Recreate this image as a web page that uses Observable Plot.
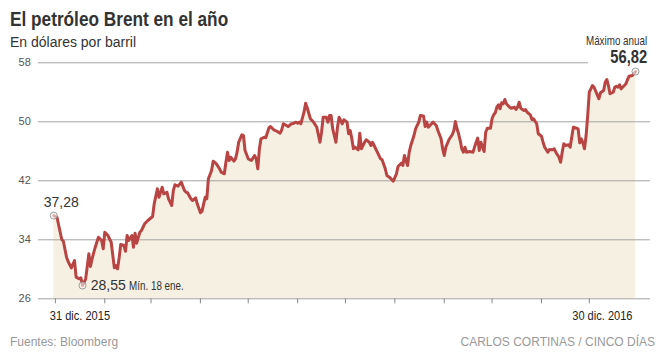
<!DOCTYPE html>
<html>
<head>
<meta charset="utf-8">
<script src="https://cdn.jsdelivr.net/npm/d3@7"></script>
<script src="https://cdn.jsdelivr.net/npm/@observablehq/plot@0.6"></script>
<style>
  html, body { margin: 0; padding: 0; background: #fff; }
  #wrap { position: relative; width: 664px; height: 355px; overflow: hidden; font-family: "Liberation Sans", Arial, sans-serif; }
  #wrap > svg { position: absolute; left: 0; top: 0; }
  .t { position: absolute; white-space: nowrap; line-height: 1; }
  #title { left: 10px; top: 8px; font-weight: bold; font-size: 21px; color: #333; transform: scaleX(0.82); transform-origin: 0 0; }
  #subtitle { left: 10px; top: 35px; font-size: 14px; color: #333; }
  #source { left: 10px; top: 336px; font-size: 12px; color: #999; }
  #credit { right: 9px; top: 336px; font-size: 12px; color: #999; }
</style>
</head>
<body>
<div id="wrap">
  <div class="t" id="title">El petróleo Brent en el año</div>
  <div class="t" id="subtitle">En dólares por barril</div>
  <div class="t" id="source">Fuentes: Bloomberg</div>
  <div class="t" id="credit">CARLOS CORTINAS / CINCO DÍAS</div>
</div>
<script>
// Days elapsed since 31 dic. 2015, and Brent price (USD per barrel)
const startDate = "2015-12-31";
const days = [0,2,4,5,6,8,9,11,13,14,16,17,18,20,22,23,24,26,28,30,31,32,34,36,38,39,40,41,42,44,45,46,47,49,50,51,52,54,55,57,59,62,
63,65,66,68,69,71,72,74,75,76,78,80,82,83,84,86,87,89,90,92,93,95,96,97,99,100,102,104,105,107,108,109,110,111,113,114,115,116,118,119,120,
122,124,126,127,128,129,130,132,133,135,136,138,140,142,143,144,146,147,149,150,152,153,154,155,157,158,159,161,163,165,167,168,169,171,172,173,174,175,177,178,179,181,182,184,
185,186,187,188,189,191,192,193,195,196,198,199,200,201,203,205,206,208,209,211,213,215,216,218,219,220,221,222,223,224,226,227,229,230,232,233,234,235,237,238,240,241,243,244,245,246,
248,250,251,252,253,254,255,256,257,258,259,261,263,264,265,266,267,268,270,271,272,274,275,276,277,278,279,280,281,282,283,284,286,287,289,290,291,292,293,295,296,297,299,300,301,303,304,306,307,308,310,
311,313,314,315,317,318,319,320,321,323,324,325,326,328,329,330,331,332,333,334,335,336,337,338,339,341,342,343,345,346,347,348,349,351,352,353,354,355,356,358,359,360,361,363,364,365];
const prices = [37.28,37.06,35.03,34.04,33.81,31.64,31.06,30.20,31.19,28.93,28.71,28.85,27.80,28.71,32.10,30.38,31.42,33.00,34.35,33.90,32.78,35.03,34.58,33.67,30.20,30.52,30.07,31.56,33.36,33.23,32.45,34.58,33.90,34.58,33.00,34.89,33.54,35.03,35.26,36.17,36.62,37.16,
38.88,40.91,39.78,41.13,40.24,40.45,39.56,38.65,40.68,41.46,41.27,41.81,40.68,40.45,40.35,39.56,39.33,39.69,38.88,37.66,37.88,39.78,39.56,42.27,43.40,44.66,44.30,43.63,43.17,42.95,44.52,45.88,44.75,45.20,44.66,44.98,45.88,47.23,48.24,48.14,46.11,
44.98,44.75,45.43,44.98,43.63,46.34,47.69,47.91,47.83,49.19,49.36,48.92,48.72,48.45,48.92,49.73,49.50,49.36,49.73,49.75,49.95,49.81,49.95,49.73,51.30,52.52,51.90,50.41,49.95,49.27,47.23,48.59,50.62,50.62,49.95,50.85,50.85,49.05,47.23,49.27,50.62,49.73,50.27,49.95,
48.37,48.82,47.69,46.34,46.56,46.20,48.45,46.34,47.23,47.56,47.23,46.79,47.23,46.79,45.88,44.98,44.85,43.63,42.72,42.41,41.95,42.95,43.94,44.39,44.07,45.43,44.75,44.07,45.88,46.79,48.14,49.05,49.95,50.85,50.80,49.36,49.95,49.27,49.73,49.95,49.50,48.82,47.69,46.34,45.43,46.56,
47.60,48.24,48.82,50.04,49.05,48.37,47.46,46.34,45.88,46.56,45.88,45.97,45.88,46.56,47.23,47.78,46.11,47.23,45.97,48.59,49.13,49.13,50.41,50.95,51.22,51.98,52.30,51.76,52.58,52.44,53.02,52.44,51.98,51.84,51.98,51.67,51.98,52.66,51.84,51.53,51.67,51.30,50.95,50.31,50.41,49.73,48.37,48.05,47.23,46.56,45.88,
46.24,46.20,46.34,45.88,45.20,44.52,45.88,47.02,46.79,46.88,46.56,47.91,49.27,49.13,49.05,47.15,47.69,47.15,46.34,48.14,50.85,54.01,54.47,54.92,54.69,53.66,53.12,53.93,54.24,55.37,55.74,54.92,53.80,54.01,54.69,54.83,54.69,55.02,54.47,54.92,55.15,55.74,56.18,56.28,56.51,56.82];

const yTicks = [26, 34, 42, 50, 58];
const xLabels = ["31 dic. 2015", "30 dic. 2016"];
const firstLabel = "37,28";
const minLabel = "28,55";
const minNote = "Mín. 18 ene.";
const maxNote = "Máximo anual";
const maxLabel = "56,82";

const t0 = new Date(startDate + "T00:00:00Z");
const data = days.map((d, i) => ({ date: d3.utcDay.offset(t0, d), price: prices[i] }));
const first = data[0];
const last = data[data.length - 1];
const low = d3.least(data, d => d.price);
const yMin = d3.min(yTicks), yMax = d3.max(yTicks);
const monthTicks = d3.utcMonth.range(d3.utcMonth.ceil(first.date), last.date);

const RED = "#b94444";
const GRID = "#a3a3a3";
const FONT = "'Liberation Sans', Arial, sans-serif";

const chart = Plot.plot({
  width: 664,
  height: 355,
  marginTop: 62.3,
  marginBottom: 56.7,
  marginLeft: 53.3,
  marginRight: 29,
  x: { type: "utc", domain: [first.date, last.date] },
  y: { domain: [yMin, yMax] },
  style: { fontFamily: FONT, background: "transparent", overflow: "visible" },
  marks: [
    Plot.areaY(data, { x: "date", y1: yMin, y2: "price", fill: "#f5f0e2" }),
    Plot.ruleY(yTicks.filter(t => t < yMax), { y: d => d, stroke: GRID, strokeWidth: 1, insetLeft: -15.3, insetRight: -15 }),
    Plot.ruleY(yTicks.filter(t => t === yMax), { y: d => d, stroke: GRID, strokeWidth: 1, insetLeft: -15.3, insetRight: 47 }),
    Plot.axisX({ ticks: monthTicks, tickSize: 5, tickFormat: () => "", stroke: "#888", label: null }),
    Plot.axisY({ ticks: yTicks, tickSize: 0, tickPadding: 23, fontSize: 11, fill: "#555", tickFormat: d => String(d), label: null }),
    Plot.lineY(data, { x: "date", y: "price", stroke: RED, strokeWidth: 3, strokeLinejoin: "round", strokeLinecap: "round" }),
    Plot.dot([first, low, last], { x: "date", y: "price", r: 3.5, stroke: "#999", strokeWidth: 1, fill: "#fff", fillOpacity: 0.55 }),
    // annotations
    Plot.text([first], { x: "date", y: "price", text: () => firstLabel, textAnchor: "start", dx: -10, dy: -13, fontSize: 14, fill: "#333" }),
    Plot.text([low], { x: "date", y: "price", text: () => minLabel, textAnchor: "start", dx: 8.3, dy: 0, fontSize: 14, fill: "#333" }),
    Plot.text([low], { x: "date", y: "price", text: () => minNote, textAnchor: "start", dx: 46.6, dy: 1, fontSize: 12, fill: "#333" }),
    Plot.text([last], { x: "date", y: "price", text: () => maxLabel, textAnchor: "end", dx: 11.7, dy: -14, fontSize: 18, fontWeight: "bold", fill: "#333" }),
    Plot.text([last], { x: "date", y: "price", text: () => maxNote, textAnchor: "end", dx: 11.7, dy: -30, fontSize: 12, fill: "#333" }),
    // x-axis end labels
    Plot.text([first], { x: "date", y: () => yMin, text: () => xLabels[0], textAnchor: "start", dx: -4, dy: 17, fontSize: 13.5, fill: "#222" }),
    Plot.text([last], { x: "date", y: () => yMin, text: () => xLabels[1], textAnchor: "end", dx: -3, dy: 17, fontSize: 13.5, fill: "#222" })
  ]
});

// condensed look: horizontally squeeze the narrow-style labels around their anchor
const narrow = new Set([minNote, maxNote, maxLabel, ...xLabels]);
chart.querySelectorAll("text").forEach(el => {
  if (!narrow.has(el.textContent)) return;
  const tr = el.getAttribute("transform");
  if (tr) {
    el.setAttribute("transform", tr + " scale(0.82,1)");
  } else {
    const x = +(el.getAttribute("x") || 0), y = +(el.getAttribute("y") || 0);
    el.removeAttribute("x"); el.removeAttribute("y");
    el.setAttribute("transform", `translate(${x},${y}) scale(0.82,1)`);
  }
});

document.getElementById("wrap").prepend(chart);
</script>
</body>
</html>
